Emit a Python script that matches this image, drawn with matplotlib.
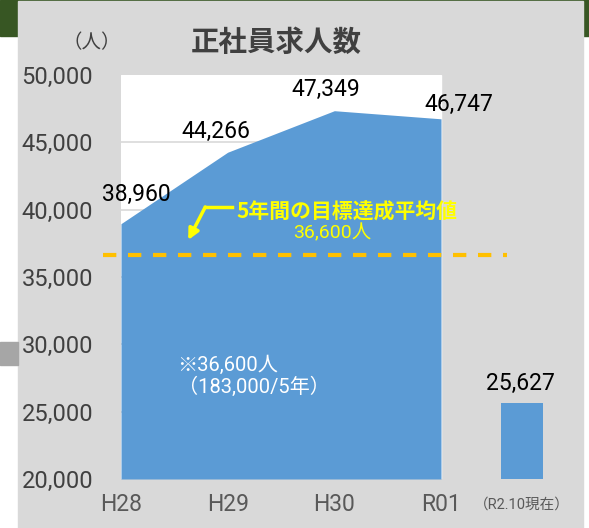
import numpy as np
import matplotlib.pyplot as plt
from matplotlib.patches import Rectangle
import matplotlib.transforms as mtransforms

# data
years = ["H28", "H29", "H30", "R01"]
openings = [38960, 44266, 47349, 46747]
current_label = "（R2.10現在）"
current_value = 25627
target_avg = 36600
yticks = [20000, 25000, 30000, 35000, 40000, 45000, 50000]

NUM = ['Roboto', 'Noto Sans CJK JP', 'DejaVu Sans']
CJK = ['Noto Sans CJK JP', 'DejaVu Sans']
blue = '#5b9bd5'
yellow = '#ffff00'

W, H = 589, 528
fig = plt.figure(figsize=(W / 100, H / 100), dpi=100, facecolor='white')

# background pieces (green band, grey panel, small grey tab)
fig.patches.append(Rectangle((0, 1 - 36 / H), 1, 36 / H, transform=fig.transFigure,
                             color='#375623', zorder=-3))
fig.patches.append(Rectangle((18 / W, 0), (583 - 18) / W, 527 / H, transform=fig.transFigure,
                             color='#d9d9d9', zorder=-2))
fig.patches.append(Rectangle((0, (528 - 365) / H), 18 / W, 23 / H, transform=fig.transFigure,
                             color='#a6a6a6', zorder=-2))

ax = fig.add_axes([121 / W, (528 - 479) / H, (583 - 121) / W, (479 - 75) / H])
ax.set_facecolor('none')
ax.set_xlim(0, (583 - 121) / 106.67)
ax.set_ylim(20000, 50000)
for s in ax.spines.values():
    s.set_visible(False)

x = np.arange(len(years))
ax.axvspan(0, 3, color='white', zorder=0)
ax.hlines(yticks[1:-1], 0, 3, color='#d9d9d9', lw=1.2, zorder=1)
ax.fill_between(x, 20000, openings, color=blue, lw=0, zorder=2)

bar_x = 3.76
ax.bar(bar_x, current_value - 20000, bottom=20000, width=0.39, color=blue, zorder=2)

# target line
ax.plot([-0.17, 3.62], [target_avg, target_avg], color='#ffc000', lw=3,
        dashes=(3.2, 2.8), clip_on=False, zorder=4)

# y ticks
ax.set_yticks(yticks)
ax.set_yticklabels([f"{v:,}" for v in yticks], family=NUM, fontsize=17, color='#404040')
ax.tick_params(axis='y', length=0, pad=20)
ax.set_xticks([])

# x labels
trans = mtransforms.blended_transform_factory(ax.transData, ax.transAxes)
for xi, lab in zip(x, years):
    ax.text(xi, -0.064, lab, transform=trans, ha='center', va='center',
            family=NUM, fontsize=16.5, color='#595959')
ax.text(bar_x, -0.064, current_label, transform=trans, ha='center', va='center',
        family=NUM, fontsize=10.5, color='#595959')

# value labels
offsets = [(15, 29), (-12, 21), (-9, 21), (18, 14)]
for xi, v, off in zip(x, openings, offsets):
    ax.annotate(f"{v:,}", (xi, v), xytext=off, textcoords='offset pixels',
                ha='center', va='center', family=NUM, fontsize=16.5, color='black', zorder=5)
ax.annotate(f"{current_value:,}", (bar_x, current_value), xytext=(-2, 20),
            textcoords='offset pixels', ha='center', va='center',
            family=NUM, fontsize=16.5, color='black')

# annotation for target
ax.text(2.12, 39827, "5年間の目標達成平均値", ha='center', va='center',
        family=CJK, fontsize=15, fontweight='bold', color=yellow, zorder=5)
ax.text(1.98, 38267, f"{target_avg:,}人", ha='center', va='center',
        family=NUM, fontsize=14, color=yellow, zorder=5)
ax.plot([1.04, 0.79], [40198, 40198], color=yellow, lw=2.5, zorder=5)
ax.annotate('', xy=(0.63, 37747), xytext=(0.79, 40198),
            arrowprops=dict(arrowstyle='-|>', color=yellow, lw=2.5, mutation_scale=16,
                            shrinkA=0, shrinkB=0), zorder=5)

# note inside area
ax.text(0.53, 27600, "※36,600人\n（183,000/5年）", ha='left', va='center',
        family=NUM, fontsize=14.5, color='white', linespacing=1.1, zorder=5)

# title and unit
fig.text(276 / W, 1 - 43 / H, "正社員求人数", ha='center', va='center',
         family=CJK, fontsize=20.5, fontweight='bold', color='#404040', zorder=3)
fig.text(92 / W, 1 - 43 / H, "（人）", ha='center', va='center',
         family=CJK, fontsize=14, color='#404040', zorder=3)

fig.savefig("out.png", dpi=100, facecolor=fig.get_facecolor())
